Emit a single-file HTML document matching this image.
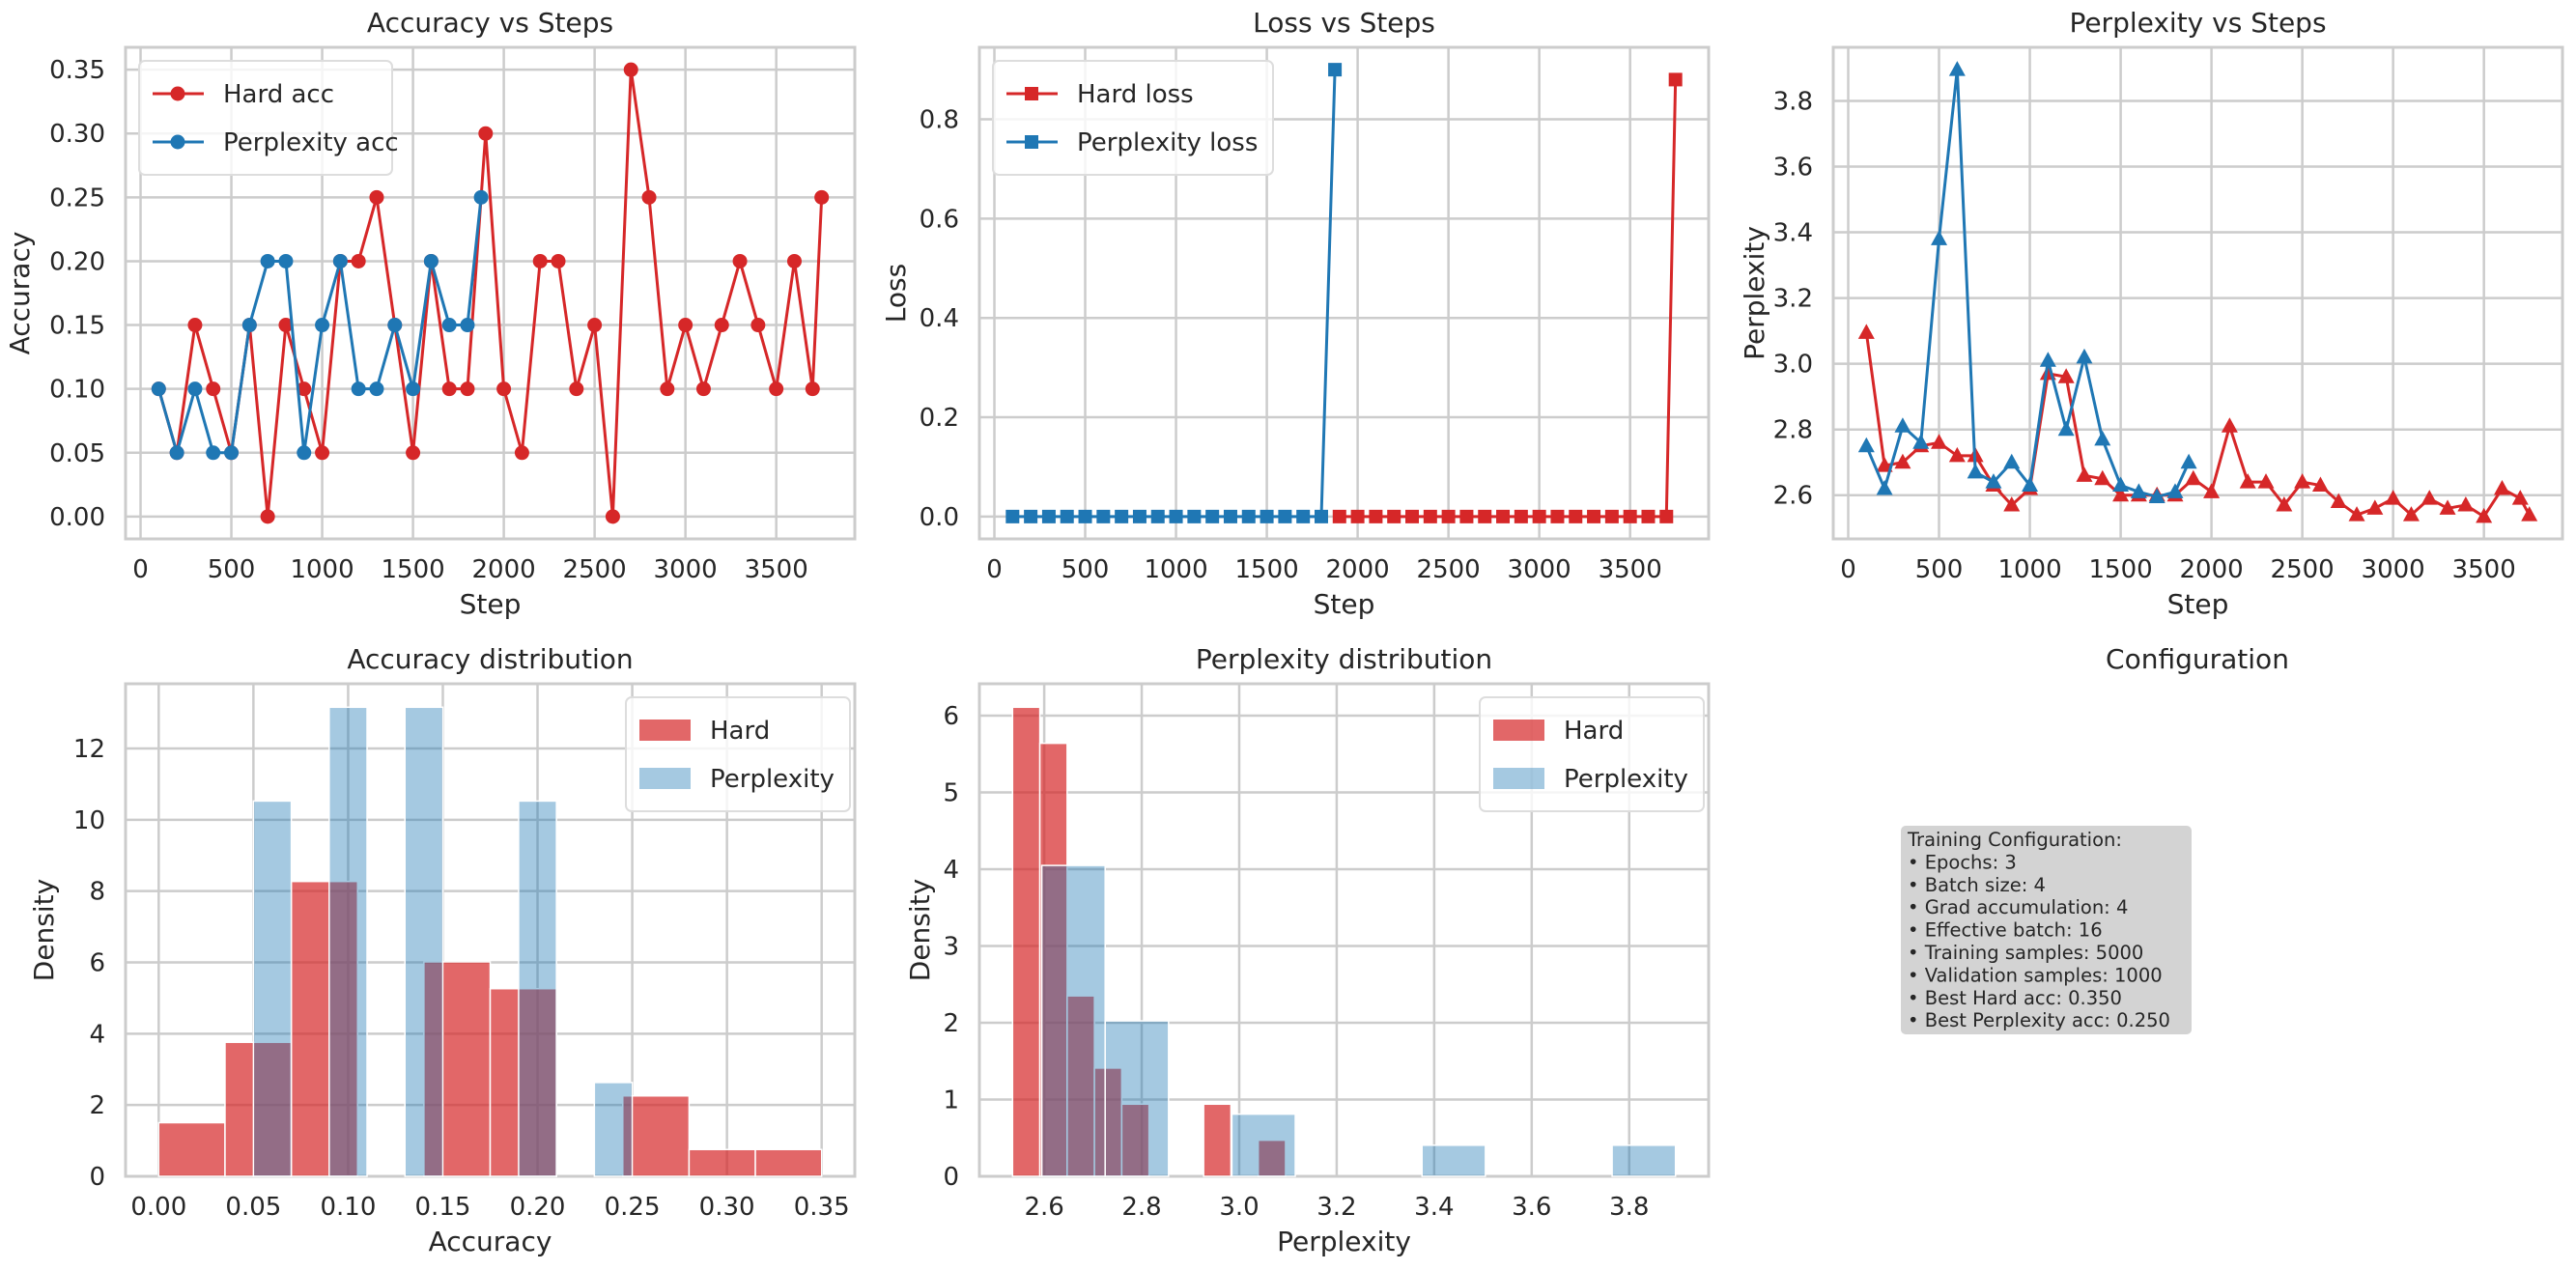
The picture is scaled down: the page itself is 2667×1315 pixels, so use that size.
<!DOCTYPE html>
<html><head><meta charset="utf-8">
<style>
html,body{margin:0;padding:0;background:#fff;}
svg{display:block;font-family:"DejaVu Sans","Liberation Sans",sans-serif;}
</style></head>
<body>
<svg id="fig" width="2667" height="1315" viewBox="0 0 2667 1315" xmlns="http://www.w3.org/2000/svg">
<rect width="2667" height="1315" fill="#ffffff"/>
</svg>
<script>
// ---- data ----
const hardSteps = [100,200,300,400,500,600,700,800,900,1000,1100,1200,1300,1400,1500,1600,1700,1800,1900,2000,2100,2200,2300,2400,2500,2600,2700,2800,2900,3000,3100,3200,3300,3400,3500,3600,3700,3750];
const hardAcc = [0.10,0.05,0.15,0.10,0.05,0.15,0.00,0.15,0.10,0.05,0.20,0.20,0.25,0.15,0.05,0.20,0.10,0.10,0.30,0.10,0.05,0.20,0.20,0.10,0.15,0.00,0.35,0.25,0.10,0.15,0.10,0.15,0.20,0.15,0.10,0.20,0.10,0.25];
const hardPpl = [3.095,2.69,2.70,2.75,2.76,2.72,2.72,2.63,2.57,2.62,2.97,2.96,2.66,2.65,2.60,2.60,2.60,2.60,2.65,2.61,2.81,2.64,2.64,2.57,2.64,2.63,2.58,2.54,2.56,2.59,2.54,2.59,2.56,2.57,2.535,2.62,2.59,2.54];
const perpSteps = [100,200,300,400,500,600,700,800,900,1000,1100,1200,1300,1400,1500,1600,1700,1800,1875];
const perpAcc = [0.10,0.05,0.10,0.05,0.05,0.15,0.20,0.20,0.05,0.15,0.20,0.10,0.10,0.15,0.10,0.20,0.15,0.15,0.25];
const perpPpl = [2.75,2.62,2.81,2.76,3.38,3.895,2.67,2.64,2.70,2.63,3.01,2.80,3.02,2.77,2.63,2.61,2.595,2.61,2.70];
const hardLossSteps = [1900,2000,2100,2200,2300,2400,2500,2600,2700,2800,2900,3000,3100,3200,3300,3400,3500,3600,3700,3750];
const hardLoss = [0,0,0,0,0,0,0,0,0,0,0,0,0,0,0,0,0,0,0,0.88];
const perpLossSteps = [100,200,300,400,500,600,700,800,900,1000,1100,1200,1300,1400,1500,1600,1700,1800,1875];
const perpLoss = [0,0,0,0,0,0,0,0,0,0,0,0,0,0,0,0,0,0,0.90];
const stepTicks = [0,500,1000,1500,2000,2500,3000,3500];
const accTicks = [0,0.05,0.10,0.15,0.20,0.25,0.30,0.35];
const lossTicks = [0,0.2,0.4,0.6,0.8];
const pplTicks = [2.6,2.8,3.0,3.2,3.4,3.6,3.8];
const densAccTicks = [0,2,4,6,8,10,12];
const densPplTicks = [0,1,2,3,4,5,6];
const configLines = ["Training Configuration:","• Epochs: 3","• Batch size: 4","• Grad accumulation: 4","• Effective batch: 16","• Training samples: 5000","• Validation samples: 1000","• Best Hard acc: 0.350","• Best Perplexity acc: 0.250"];

const RED="#d62728", BLUE="#1f77b4", GRID="#cccccc", TXT="#262626";
const NS="http://www.w3.org/2000/svg";
const svg=document.getElementById('fig');
function el(tag,attrs,parent){const e=document.createElementNS(NS,tag);for(const k in attrs)e.setAttribute(k,attrs[k]);(parent||svg).appendChild(e);return e;}
function txt(s,attrs,parent){const e=el('text',attrs,parent);e.textContent=s;return e;}
function mm(a){return [Math.min(...a),Math.max(...a)];}
function pad(lo,hi){const m=(hi-lo)*0.05;return [lo-m,hi+m];}

function axes(name,L,T,W,H,xlim,ylim,xt,yt,xfmt,yfmt,title,xl,yl,ylx){
  const g=el('g',{});
  
  
  const sx=v=>L+(v-xlim[0])/(xlim[1]-xlim[0])*W;
  const sy=v=>T+H-(v-ylim[0])/(ylim[1]-ylim[0])*H;
  xt.forEach(v=>{const x=sx(v);
    const l=el('line',{x1:x,x2:x,y1:T,y2:T+H,stroke:GRID,'stroke-width':2.5},g);
    
    const t=txt(xfmt(v),{x:x,y:T+H+40,'font-size':26,fill:TXT,'text-anchor':'middle'},g);
    });
  yt.forEach(v=>{const y=sy(v);
    const l=el('line',{x1:L,x2:L+W,y1:y,y2:y,stroke:GRID,'stroke-width':2.5},g);
    
    const t=txt(yfmt(v),{x:L-21,y:y+9,'font-size':26,fill:TXT,'text-anchor':'end'},g);
    });
  const f=el('rect',{x:L,y:T,width:W,height:H,fill:'none',stroke:GRID,'stroke-width':3},g);
  
  const tt=txt(title,{x:L+W/2,y:T-16,'font-size':28,fill:TXT,'text-anchor':'middle'},g);
  
  const xa=txt(xl,{x:L+W/2,y:T+H+77,'font-size':28,fill:TXT,'text-anchor':'middle'},g);
  
  const ya=txt(yl,{x:ylx,y:T+H/2,'font-size':28,fill:TXT,'text-anchor':'middle',transform:`rotate(-90 ${ylx} ${T+H/2})`},g);
  
  return {sx,sy,g};
}
function marker(kind,x,y,c,g){
  let m;
  if(kind==='o') m=el('circle',{cx:x,cy:y,r:7.5,fill:c},g);
  else if(kind==='s') m=el('rect',{x:x-7,y:y-7,width:14,height:14,fill:c},g);
  else m=el('polygon',{points:`${x},${y-9} ${x-8.5},${y+6.5} ${x+8.5},${y+6.5}`,fill:c},g);
  return m;
}
function series(ax,xs,ys,c,kind,name){
  const g=el('g',{},ax.g);
  
  
  const pts=xs.map((x,i)=>ax.sx(x)+','+ax.sy(ys[i])).join(' ');
  el('polyline',{points:pts,fill:'none',stroke:c,'stroke-width':3,'stroke-linejoin':'round'},g);
  xs.forEach((x,i)=>{const m=marker(kind,ax.sx(x),ax.sy(ys[i]),c,g);
    
    });
}
function legend(ax,x,y,w,items,kind){
  const g=el('g',{},ax.g);
  
  
  el('rect',{x:x,y:y,width:w,height:items.length*50+18,rx:6,fill:'#ffffff','fill-opacity':0.8,stroke:'#dddddd','stroke-width':2},g);
  items.forEach((it,i)=>{const cy=y+34+i*50;
    const e=el('g',{},g);
    
    
    if(kind==='patch'){el('rect',{x:x+14,y:cy-11,width:53,height:22,fill:it.c,'fill-opacity':it.a},e);}
    else{el('line',{x1:x+14,x2:x+67,y1:cy,y2:cy,stroke:it.c,'stroke-width':3},e);marker(kind,x+40,cy,it.c,e);}
    txt(it.t,{x:x+87,y:cy+9,'font-size':26,fill:TXT},e);});
}
function hist(vals,nb){
  const [mn,mx]=mm(vals);const w=(mx-mn)/nb;const counts=new Array(nb).fill(0);
  const edges=[];for(let i=0;i<=nb;i++)edges.push(mn+i*w);
  vals.forEach(v=>{let k=Math.floor((v-mn)*nb/(mx-mn));if(k>=nb)k=nb-1;
    if(v<edges[k])k--; else if(k<nb-1&&v>=edges[k+1])k++; counts[k]++;});
  return {edges,dens:counts.map(c=>c/(vals.length*w))};
}
function bars(ax,h,c,a,name){
  const g=el('g',{},ax.g);
  
  
  h.dens.forEach((d,i)=>{if(d<=0)return;
    const x0=ax.sx(h.edges[i]),x1=ax.sx(h.edges[i+1]),y=ax.sy(d);
    const r=el('rect',{x:x0,y:y,width:x1-x0,height:ax.sy(0)-y,fill:c,'fill-opacity':a,stroke:'#ffffff','stroke-width':1.5},g);
    
    });
}
const f2=v=>v.toFixed(2), f1=v=>v.toFixed(1), f0=v=>String(v);
const W=755,H=509;
// Panel 1
let xl=pad(...mm(hardSteps.concat(perpSteps)));
let a1=axes('accuracy-vs-steps-chart',130,49,W,H,xl,pad(...mm(hardAcc.concat(perpAcc))),stepTicks,accTicks,f0,f2,'Accuracy vs Steps','Step','Accuracy',30);
series(a1,hardSteps,hardAcc,RED,'o','hard-acc-line');
series(a1,perpSteps,perpAcc,BLUE,'o','perplexity-acc-line');
legend(a1,144,63,262,[{c:RED,t:'Hard acc'},{c:BLUE,t:'Perplexity acc'}],'o');
// Panel 2
let xl2=pad(...mm(hardLossSteps.concat(perpLossSteps)));
let a2=axes('loss-vs-steps-chart',1014,49,W,H,xl2,pad(...mm(hardLoss.concat(perpLoss))),stepTicks,lossTicks,f0,f1,'Loss vs Steps','Step','Loss',937);
series(a2,hardLossSteps,hardLoss,RED,'s','hard-loss-line');
series(a2,perpLossSteps,perpLoss,BLUE,'s','perplexity-loss-line');
legend(a2,1028,63,290,[{c:RED,t:'Hard loss'},{c:BLUE,t:'Perplexity loss'}],'s');
// Panel 3
let a3=axes('perplexity-vs-steps-chart',1898,49,W,H,xl,pad(...mm(hardPpl.concat(perpPpl))),stepTicks,pplTicks,f0,f1,'Perplexity vs Steps','Step','Perplexity',1826);
series(a3,hardSteps,hardPpl,RED,'^','hard-perplexity-line');
series(a3,perpSteps,perpPpl,BLUE,'^','perplexity-perplexity-line');
// Panel 4
const hA=hist(hardAcc,10), pA=hist(perpAcc,10);
const ym4=Math.max(...hA.dens,...pA.dens)*1.05;
let a4=axes('accuracy-distribution-chart',130,708,W,510,pad(...mm(hardAcc.concat(perpAcc))),[0,ym4],accTicks,densAccTicks,f2,f0,'Accuracy distribution','Accuracy','Density',55);
bars(a4,hA,RED,0.7,'hard-acc-hist');
bars(a4,pA,BLUE,0.4,'perplexity-acc-hist');
legend(a4,648,722,232,[{c:RED,a:0.7,t:'Hard'},{c:BLUE,a:0.4,t:'Perplexity'}],'patch');
// Panel 5
const hP=hist(hardPpl,10), pP=hist(perpPpl,10);
const ym5=Math.max(...hP.dens,...pP.dens)*1.05;
let a5=axes('perplexity-distribution-chart',1014,708,W,510,pad(...mm(hardPpl.concat(perpPpl))),[0,ym5],pplTicks,densPplTicks,f1,f0,'Perplexity distribution','Perplexity','Density',962);
bars(a5,hP,RED,0.7,'hard-perplexity-hist');
bars(a5,pP,BLUE,0.4,'perplexity-perplexity-hist');
legend(a5,1532,722,232,[{c:RED,a:0.7,t:'Hard'},{c:BLUE,a:0.4,t:'Perplexity'}],'patch');
// Panel 6
const cg=el('g',{});


const ct=txt('Configuration',{x:2275,y:692,'font-size':28,fill:TXT,'text-anchor':'middle'},cg);


const cb=el('rect',{x:1968,y:855,width:301,height:216,rx:5,fill:'#d3d3d3'},cg);


configLines.forEach((s,i)=>{const t=txt(s,{x:1975,y:876+i*23.4,'font-size':19.5,fill:TXT},cg);
  
  });
</script>
</body></html>
